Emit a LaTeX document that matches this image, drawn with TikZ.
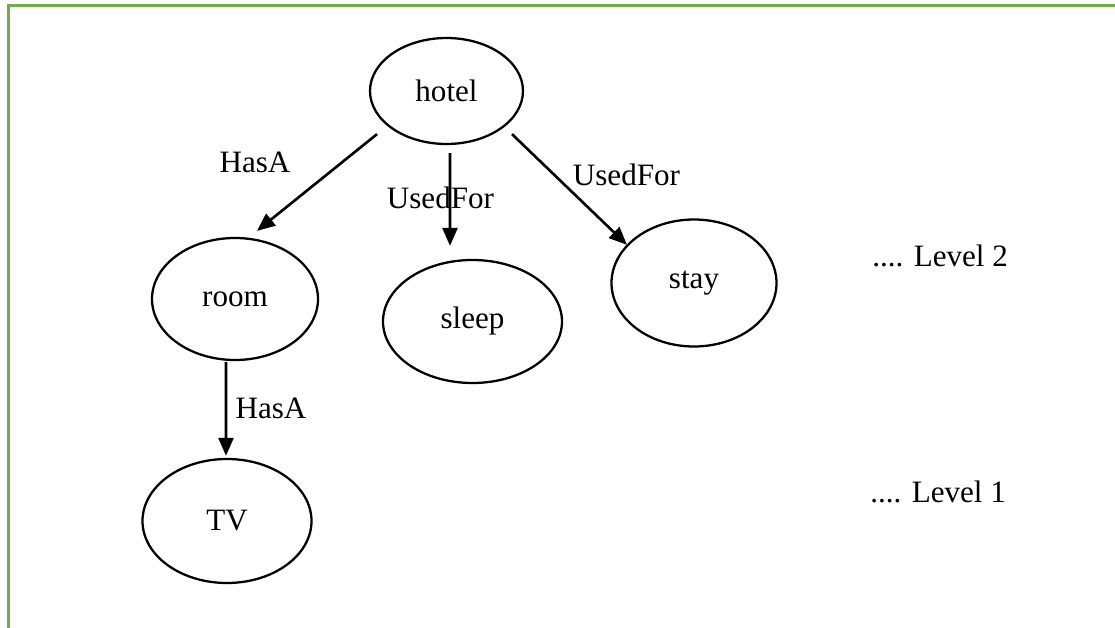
\documentclass[tikz,border=0pt]{standalone}
\usepackage{fontspec}
\setmainfont{Liberation Serif}
\usepackage{xcolor}
\usepackage{tikz}
\usetikzlibrary{arrows.meta}
\usetikzlibrary{shapes.geometric}
\usetikzlibrary{positioning}
\definecolor{frameGreen}{RGB}{112,173,71}

\begin{document}
\begin{tikzpicture}[
    font=\fontsize{17.7}{21}\selectfont,
    concept/.style={draw,ellipse,line width=1.3pt,inner sep=0pt},
    rel/.style={-{Triangle[length=0.36cm,width=0.30cm]},line width=1.5pt},
    lbl/.style={anchor=base,inner sep=0pt}]
    \useasboundingbox (0,0) rectangle (22.30,-12.56);
    % frame
    \draw [frameGreen, line width=0.06cm] (0.16,-12.56) -- (0.16,-0.106) -- (22.30,-0.106);
    % concepts
    \node[concept,minimum width=3.06cm,minimum height=2.12cm] (hotel) at (8.93,-1.82) {hotel};
    \node[concept,minimum width=3.32cm,minimum height=2.44cm] (room) at (4.70,-5.98) {room};
    \node[concept,minimum width=3.58cm,minimum height=2.46cm] (sleep) at (9.45,-6.43) {sleep};
    \node[concept,minimum width=3.30cm,minimum height=2.54cm] (stay) at (13.88,-5.66) {stay};
    \node[concept,minimum width=3.38cm,minimum height=2.48cm] (tv) at (4.54,-10.42) {TV};
    % relations
    \draw[rel] ([shift={(-1.39,0.22)}]hotel.south) -- ([shift={(0.44,0.12)}]room.north);
    \draw[rel] ([shift={(0.07,-0.16)}]hotel.south) -- ([shift={(-0.45,0.26)}]sleep.north);
    \draw[rel] ([shift={(1.31,0.22)}]hotel.south) -- ([shift={(-1.34,-0.53)}]stay.north);
    \draw[rel] ([shift={(-0.18,-0.02)}]room.south) -- ([shift={(-0.02,0.04)}]tv.north);
    \node[lbl] (hasA1) at (5.10,-3.46) {HasA};
    \node[lbl] (used1) at (8.81,-4.18) {UsedFor};
    \node[lbl] (used2) at (12.53,-3.72) {UsedFor};
    \node[lbl] (hasA2) at (5.42,-8.36) {HasA};
    % levels
    \node[lbl,anchor=base west] (lvl2) at (17.44,-5.34) {.... Level 2};
    \node[lbl,anchor=base west] (lvl1) at (17.40,-10.04) {.... Level 1};
\end{tikzpicture}
\end{document}
